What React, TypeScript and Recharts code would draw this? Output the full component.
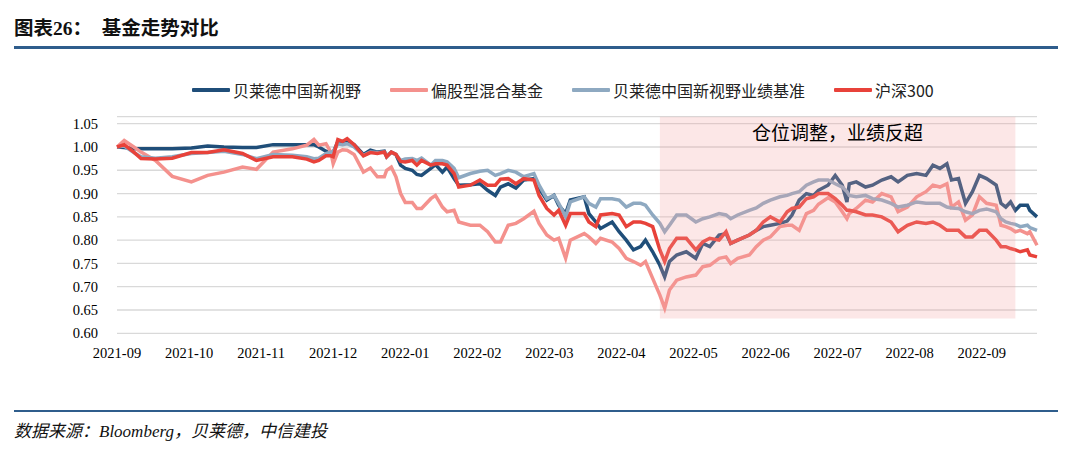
import { LineChart, Line, XAxis, YAxis, CartesianGrid, ReferenceArea } from "recharts"

const tickLabels = [
	"2021-09", "2021-10", "2021-11", "2021-12", "2022-01", "2022-02", "2022-03",
	"2022-04", "2022-05", "2022-06", "2022-07", "2022-08", "2022-09",
]

const yTicks = [0.6, 0.65, 0.7, 0.75, 0.8, 0.85, 0.9, 0.95, 1.0, 1.05]

const dates = [
	"2021-09-01", "2021-09-04", "2021-09-08", "2021-09-11", "2021-09-17", "2021-09-24",
	"2021-10-02", "2021-10-09", "2021-10-16", "2021-10-24", "2021-10-30",
	"2021-11-06", "2021-11-14", "2021-11-20", "2021-11-23", "2021-11-25", "2021-11-28", "2021-11-30",
	"2021-12-01", "2021-12-03", "2021-12-05", "2021-12-07", "2021-12-10", "2021-12-14", "2021-12-17",
	"2021-12-20", "2021-12-23", "2021-12-24", "2021-12-26", "2021-12-28", "2021-12-30",
	"2022-01-01", "2022-01-04", "2022-01-06", "2022-01-08", "2022-01-12", "2022-01-14", "2022-01-17",
	"2022-01-19", "2022-01-22", "2022-01-24", "2022-01-29",
	"2022-02-02", "2022-02-05", "2022-02-08", "2022-02-10", "2022-02-13", "2022-02-16", "2022-02-19",
	"2022-02-23", "2022-02-25", "2022-02-28",
	"2022-03-03", "2022-03-05", "2022-03-08", "2022-03-10", "2022-03-16", "2022-03-18", "2022-03-21",
	"2022-03-23", "2022-03-28", "2022-03-31",
	"2022-04-03", "2022-04-06", "2022-04-09", "2022-04-11", "2022-04-14", "2022-04-17", "2022-04-19",
	"2022-04-21", "2022-04-24", "2022-04-28",
	"2022-05-02", "2022-05-05", "2022-05-08", "2022-05-12", "2022-05-15", "2022-05-17", "2022-05-20",
	"2022-05-25", "2022-05-28", "2022-05-31",
	"2022-06-03", "2022-06-07", "2022-06-10", "2022-06-12", "2022-06-15", "2022-06-18", "2022-06-21",
	"2022-06-23", "2022-06-27", "2022-06-30",
	"2022-07-03", "2022-07-05", "2022-07-06", "2022-07-09", "2022-07-13", "2022-07-16", "2022-07-20",
	"2022-07-24", "2022-07-27", "2022-07-31",
	"2022-08-04", "2022-08-08", "2022-08-11", "2022-08-14", "2022-08-17", "2022-08-19", "2022-08-22",
	"2022-08-25", "2022-08-28", "2022-08-31",
	"2022-09-03", "2022-09-07", "2022-09-09", "2022-09-11", "2022-09-13", "2022-09-15", "2022-09-17",
	"2022-09-20", "2022-09-21", "2022-09-24",
]

// 贝莱德中国新视野
const blackrockFund = [
	1.0, 0.999, 0.996, 0.996, 0.996, 0.996,
	0.998, 1.002, 1.0, 0.999, 0.999,
	1.005, 1.005, 1.005, 1.005, 1.0, 0.991, 0.986,
	0.989, 1.011, 1.012, 1.014, 1.005, 0.984, 0.993,
	0.989, 0.991, 0.979, 0.989, 0.984, 0.961,
	0.954, 0.95, 0.941, 0.939, 0.954, 0.962, 0.946,
	0.957, 0.932, 0.918, 0.919,
	0.921, 0.907, 0.896, 0.914, 0.921, 0.912, 0.929,
	0.932, 0.911, 0.886,
	0.896, 0.875, 0.857, 0.886, 0.893, 0.857, 0.839,
	0.825, 0.839, 0.818,
	0.8, 0.779, 0.786, 0.8, 0.775, 0.746, 0.721,
	0.754, 0.768, 0.775,
	0.761, 0.793, 0.786, 0.811, 0.814, 0.793, 0.8,
	0.811, 0.821, 0.829,
	0.832, 0.836, 0.841, 0.854, 0.886, 0.9, 0.896,
	0.907, 0.918, 0.939,
	0.918, 0.882, 0.921, 0.925, 0.914, 0.918, 0.929,
	0.936, 0.925, 0.939,
	0.943, 0.939, 0.961, 0.954, 0.964, 0.929, 0.932,
	0.879, 0.904, 0.939,
	0.932, 0.918, 0.879, 0.871, 0.882, 0.864, 0.875,
	0.875, 0.864, 0.85,
]

// 偏股型混合基金
const hybridFunds = [
	1.0, 1.014, 1.0, 0.989, 0.971, 0.937,
	0.925, 0.939, 0.946, 0.957, 0.952,
	0.989, 0.996, 1.004, 1.016, 1.004, 1.007, 0.989,
	0.964, 0.989, 0.994, 0.993, 0.984, 0.946, 0.955,
	0.936, 0.936, 0.95, 0.957, 0.936, 0.9,
	0.881, 0.881, 0.868, 0.868, 0.889, 0.896, 0.871,
	0.861, 0.864, 0.839, 0.832,
	0.832, 0.818, 0.796, 0.796, 0.832, 0.836, 0.846,
	0.862, 0.836, 0.811,
	0.8, 0.804, 0.761, 0.8, 0.814, 0.807, 0.793,
	0.804, 0.796, 0.782,
	0.761, 0.754, 0.746, 0.754, 0.718, 0.682, 0.654,
	0.693, 0.714, 0.721,
	0.725, 0.743, 0.746, 0.761, 0.764, 0.75, 0.761,
	0.768, 0.786, 0.8,
	0.807, 0.829, 0.832, 0.832, 0.821, 0.857, 0.864,
	0.877, 0.891, 0.882,
	0.861, 0.846, 0.857, 0.868, 0.886, 0.882, 0.9,
	0.893, 0.861, 0.871,
	0.893, 0.904, 0.918, 0.914, 0.921, 0.871, 0.882,
	0.843, 0.854, 0.893,
	0.879, 0.875, 0.832, 0.829, 0.825, 0.818, 0.821,
	0.814, 0.818, 0.789,
]

// 贝莱德中国新视野业绩基准
const benchmark = [
	1.0, 1.002, 0.988, 0.979, 0.976, 0.979,
	0.986, 0.988, 0.991, 0.984, 0.975,
	0.984, 0.982, 0.979, 0.975, 0.976, 0.986, 0.989,
	0.989, 1.007, 1.005, 1.007, 1.0, 0.982, 0.989,
	0.988, 0.989, 0.982, 0.988, 0.984, 0.971,
	0.974, 0.975, 0.971, 0.976, 0.961, 0.971, 0.971,
	0.968, 0.954, 0.934, 0.943,
	0.948, 0.95, 0.939, 0.943, 0.95, 0.946, 0.936,
	0.943, 0.918, 0.889,
	0.896, 0.879, 0.85, 0.882, 0.893, 0.879, 0.871,
	0.889, 0.889, 0.886,
	0.871, 0.879, 0.879, 0.875, 0.854, 0.836, 0.818,
	0.832, 0.854, 0.854,
	0.839, 0.846, 0.85, 0.857, 0.854, 0.846, 0.854,
	0.864, 0.869, 0.879,
	0.886, 0.893, 0.896, 0.9, 0.904, 0.918, 0.925,
	0.929, 0.929, 0.921,
	0.914, 0.904, 0.896, 0.893, 0.896, 0.889, 0.886,
	0.879, 0.871, 0.875,
	0.882, 0.879, 0.879, 0.879, 0.871, 0.869, 0.868,
	0.861, 0.857, 0.864,
	0.867, 0.861, 0.846, 0.839, 0.836, 0.834, 0.829,
	0.832, 0.827, 0.821,
]

// 沪深300
const csi300 = [
	1.0, 1.005, 0.989, 0.975, 0.974, 0.976,
	0.988, 0.988, 0.994, 0.986, 0.971,
	0.979, 0.979, 0.974, 0.968, 0.971, 0.981, 0.981,
	0.979, 1.016, 1.012, 1.018, 1.005, 0.981, 0.988,
	0.986, 0.989, 0.979, 0.989, 0.984, 0.969,
	0.968, 0.971, 0.961, 0.971, 0.961, 0.964, 0.964,
	0.961, 0.943, 0.914, 0.918,
	0.929, 0.918, 0.918, 0.931, 0.932, 0.921, 0.932,
	0.929, 0.896, 0.868,
	0.854, 0.864, 0.832, 0.857, 0.857, 0.839, 0.829,
	0.854, 0.857, 0.854,
	0.829, 0.839, 0.839, 0.836, 0.829, 0.779, 0.754,
	0.782, 0.804, 0.804,
	0.779, 0.796, 0.804, 0.8, 0.818, 0.793, 0.8,
	0.811, 0.821, 0.839,
	0.85, 0.839, 0.861, 0.868, 0.871, 0.889, 0.893,
	0.9, 0.9, 0.889,
	0.875, 0.864, 0.864, 0.861, 0.854, 0.854, 0.85,
	0.839, 0.818, 0.832,
	0.839, 0.836, 0.839, 0.832, 0.821, 0.821, 0.821,
	0.807, 0.807, 0.821,
	0.821, 0.8, 0.786, 0.786, 0.782, 0.779, 0.775,
	0.779, 0.768, 0.764,
]

const series = [
	{ key: "fund", name: "贝莱德中国新视野", color: "#1F4E79", values: blackrockFund },
	{ key: "hybrid", name: "偏股型混合基金", color: "#F4918D", values: hybridFunds },
	{ key: "bench", name: "贝莱德中国新视野业绩基准", color: "#8EA9C1", values: benchmark },
	{ key: "csi", name: "沪深300", color: "#E8423A", values: csi300 },
]

const shadeStart = "2022-04-17"
const shadeEnd = "2022-09-15"
const shadeLabel = "仓位调整，业绩反超"

// position of a date on a month-based axis (each month gets the same width)
function monthPos(date: string) {
	const [y, m, d] = date.split("-").map(Number)
	const days = new Date(y, m, 0).getDate()
	return (y - 2021) * 12 + (m - 9) + (d - 1) / days
}

const data = dates.map((d, i) => {
	const row: Record<string, number> = { x: monthPos(d) }
	series.forEach((s) => {
		row[s.key] = s.values[i]
	})
	return row
})

const serif = '"Liberation Serif", "Times New Roman", "Noto Sans CJK SC", serif'
const cjk = '"Noto Sans CJK SC", sans-serif'

export default function App() {
	return (
		<div style={{ position: "absolute", left: 0, top: 0, width: 1080, height: 465, background: "#fff", overflow: "hidden" }}>
			<div
				style={{
					position: "absolute",
					left: 14,
					top: 17,
					fontFamily: serif,
					fontWeight: "bold",
					fontSize: 19.5,
					lineHeight: "23px",
					color: "#111",
					whiteSpace: "pre",
				}}
			>
				{"图表26：  基金走势对比"}
			</div>
			<div style={{ position: "absolute", left: 14, top: 46, width: 1044, height: 3, background: "#2F5D8C" }} />

			<div
				style={{
					position: "absolute",
					left: 192,
					top: 80,
					display: "flex",
					alignItems: "center",
					fontFamily: cjk,
					fontSize: 16,
					lineHeight: "20px",
					color: "#222",
				}}
			>
				{series.map((s) => (
					<div key={s.key} style={{ display: "flex", alignItems: "center", marginRight: 29 }}>
						<div style={{ width: 38, height: 4, background: s.color, marginRight: 3, borderRadius: 1 }} />
						<span>{s.name}</span>
					</div>
				))}
			</div>

			<div style={{ position: "absolute", left: 0, top: 0 }}>
				<LineChart width={1080} height={465} data={data} margin={{ top: 116.7, right: 43, bottom: 101.7, left: 0 }}>
					<CartesianGrid vertical={false} stroke="#d9d9d9" strokeWidth={1.3} />
					<XAxis
						dataKey="x"
						type="number"
						domain={[0, "dataMax"]}
						ticks={tickLabels.map((_, i) => i)}
						interval={0}
						tickFormatter={(v: number) => tickLabels[v] ?? ""}
						axisLine={false}
						tickLine={false}
						tickMargin={8}
						tick={{ fill: "#000", fontSize: 14.5, fontFamily: serif }}
					/>
					<YAxis
						type="number"
						domain={[0.6, 1.065]}
						ticks={yTicks}
						interval={0}
						width={117}
						tickFormatter={(v: number) => v.toFixed(2)}
						axisLine={false}
						tickLine={false}
						tickMargin={13}
						tick={{ fill: "#000", fontSize: 14.5, fontFamily: serif }}
					/>
					{series.map((s) => (
						<Line
							key={s.key}
							dataKey={s.key}
							name={s.name}
							type="linear"
							stroke={s.color}
							strokeWidth={3.5}
							dot={false}
							activeDot={false}
							isAnimationActive={false}
						/>
					))}
					<ReferenceArea
						x1={monthPos(shadeStart)}
						x2={monthPos(shadeEnd)}
						y1={0.632}
						y2={1.065}
						fill="#F4A0A0"
						fillOpacity={0.25}
						stroke="none"
						ifOverflow="visible"
						zIndex={1000}
						label={{ value: shadeLabel, position: "insideTop", offset: 10, fill: "#000", fontSize: 19, fontFamily: cjk }}
					/>
				</LineChart>
			</div>

			<div style={{ position: "absolute", left: 14, top: 410, width: 1044, height: 2, background: "#2F5D8C" }} />
			<div
				style={{
					position: "absolute",
					left: 14,
					top: 421,
					fontFamily: serif,
					fontStyle: "italic",
					fontSize: 17,
					lineHeight: "22px",
					color: "#111",
				}}
			>
				数据来源：Bloomberg，贝莱德，中信建投
			</div>
		</div>
	)
}
